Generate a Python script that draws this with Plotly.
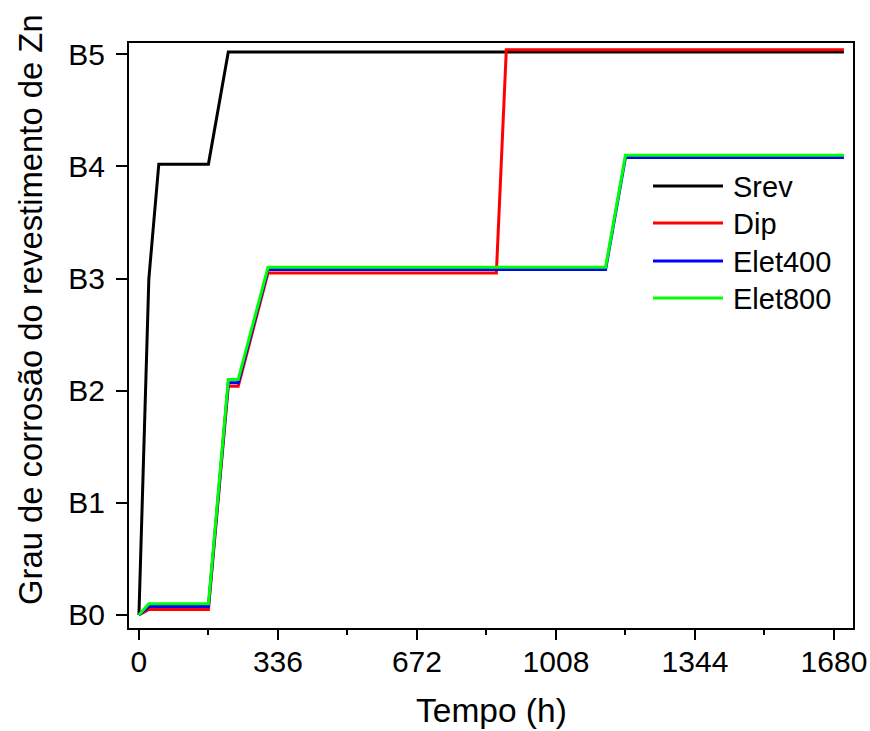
import plotly.graph_objects as go

# ---- data ----
series_names = ["Srev", "Dip", "Elet400", "Elet800"]
series_colors = ["#000000", "#ff0000", "#0000ff", "#00ff00"]

t_srev = [0, 24, 48, 168, 216, 1704]
y_srev = [0, 3.0, 4.02, 4.02, 5.02, 5.02]

t_dip = [0, 24, 168, 216, 240, 312, 864, 888, 1704]
y_dip = [0, 0.05, 0.05, 2.04, 2.04, 3.05, 3.05, 5.04, 5.04]

t_e400 = [0, 24, 168, 216, 240, 312, 1128, 1176, 1704]
y_e400 = [0, 0.075, 0.075, 2.07, 2.07, 3.08, 3.08, 4.08, 4.08]

t_e800 = [0, 24, 168, 216, 240, 312, 1128, 1176, 1704]
y_e800 = [0, 0.10, 0.10, 2.10, 2.10, 3.10, 3.10, 4.10, 4.10]

x_ticks = [0, 336, 672, 1008, 1344, 1680]
y_tickvals = [0, 1, 2, 3, 4, 5]
y_ticktext = ["B0", "B1", "B2", "B3", "B4", "B5"]

x_title = "Tempo (h)"
y_title = "Grau de corrosão do revestimento de Zn"

FONT = "Liberation Sans, Arial, sans-serif"

xs = [t_srev, t_dip, t_e400, t_e800]
ys = [y_srev, y_dip, y_e400, y_e800]

fig = go.Figure()
for name, color, x, y in zip(series_names, series_colors, xs, ys):
    fig.add_trace(go.Scatter(x=x, y=y, mode="lines", name=name,
                             line=dict(color=color, width=3),
                             showlegend=False))

W, H = 870, 731
ml, mr, mt, mb = 129, 17, 43, 103
pw, ph = W - ml - mr, H - mt - mb

def px_x(p):
    return (p - ml) / pw

def px_y(p):
    return (H - mb - p) / ph

# manual legend
leg_y = [186, 223, 261, 298]
for name, color, yy in zip(series_names, series_colors, leg_y):
    fig.add_shape(type="line", xref="paper", yref="paper",
                  x0=px_x(653), x1=px_x(723), y0=px_y(yy), y1=px_y(yy),
                  line=dict(color=color, width=3))
    fig.add_annotation(xref="paper", yref="paper", x=px_x(731), y=px_y(yy + 1),
                       text=name, showarrow=False, xanchor="left", yanchor="middle",
                       font=dict(family=FONT, size=29, color="black"))

# axis titles as annotations
fig.add_annotation(xref="paper", yref="paper", x=px_x(30), y=px_y(310),
                   text=y_title, showarrow=False, textangle=-90,
                   xanchor="center", yanchor="middle",
                   font=dict(family=FONT, size=32.8, color="black"))
fig.add_annotation(xref="paper", yref="paper", x=px_x(491), y=px_y(710),
                   text=x_title, showarrow=False,
                   xanchor="center", yanchor="middle",
                   font=dict(family=FONT, size=33.5, color="black"))

fig.update_layout(
    template="none",
    width=W, height=H,
    margin=dict(l=ml, r=mr, t=mt, b=mb, pad=0),
    plot_bgcolor="white", paper_bgcolor="white",
    font=dict(family=FONT, color="black"),
    xaxis=dict(range=[-24, 1726], tickvals=x_ticks, automargin=False,
               ticks="outside", ticklen=10, tickwidth=2, tickcolor="black",
               showline=True, linewidth=2, linecolor="black", mirror=True,
               showgrid=False, zeroline=False, ticklabelstandoff=-4,
               tickfont=dict(family=FONT, size=30, color="black"),
               minor=dict(dtick=168, tick0=0, ticks="outside", ticklen=5,
                          tickwidth=2, tickcolor="black", showgrid=False)),
    yaxis=dict(range=[-0.116, 5.1], tickvals=y_tickvals, ticktext=y_ticktext,
               automargin=False, ticklabelstandoff=5,
               ticks="outside", ticklen=11, tickwidth=2, tickcolor="black",
               showline=True, linewidth=2, linecolor="black", mirror=True,
               showgrid=False, zeroline=False,
               tickfont=dict(family=FONT, size=30, color="black")),
)

fig.write_html("out.html", config={"displayModeBar": False},
               post_script="document.body.style.margin='0';document.body.style.padding='0';")
